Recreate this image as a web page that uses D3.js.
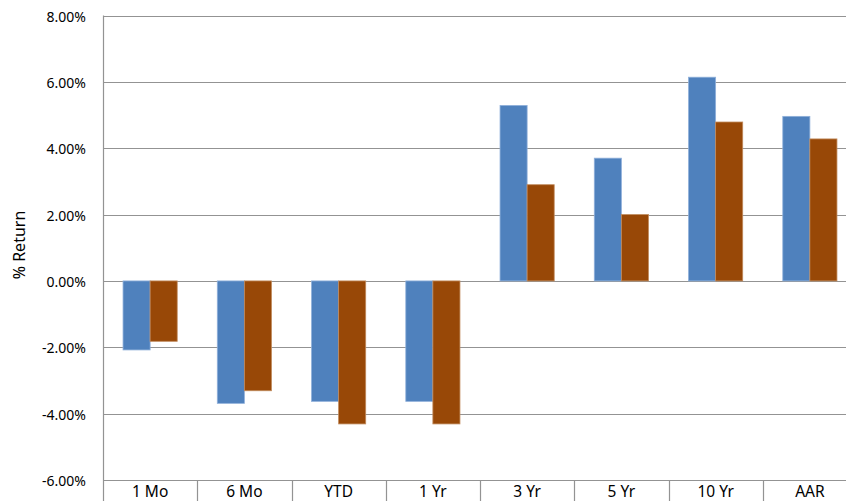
<!DOCTYPE html>
<html>
<head>
<meta charset="utf-8">
<script src="https://cdn.jsdelivr.net/npm/d3@7"></script>
<style>
html,body{margin:0;padding:0;background:#fff;overflow:hidden;}
svg{display:block;}
text{font-family:"Noto Sans",sans-serif;fill:#000;}
</style>
</head>
<body>
<svg id="chart" width="846" height="501"></svg>
<script>
const categories = ["1 Mo","6 Mo","YTD","1 Yr","3 Yr","5 Yr","10 Yr","AAR"];
const seriesA = [-2.08,-3.69,-3.63,-3.63,5.29,3.70,6.14,4.96];
const seriesB = [-1.82,-3.31,-4.31,-4.31,2.90,2.00,4.79,4.28];
const yTicks = [-6,-4,-2,0,2,4,6,8];
const seriesNames = ["A","B"];
const colors = ["#4F81BD","#984807"];
const strokes = ["#8FB0DA","#C08A5C"];

const svg = d3.select("#chart");
const mLeft = 103, mTop = 15.5, mBottom = 480, mRight = 857;
const gridColor = "#939393";

const x = d3.scaleBand().domain(categories).range([mLeft, mRight]).paddingInner(0).paddingOuter(0);
const y = d3.scaleLinear().domain([-6, 8]).range([mBottom, mTop]);
const inner = d3.scaleBand().domain(seriesNames).range([0, x.bandwidth()]).paddingInner(0).paddingOuter(0.74);

// gridlines
svg.append("g").selectAll("line").data(yTicks).join("line")
  .attr("x1", mLeft).attr("x2", 846)
  .attr("y1", d => Math.round(y(d)) + 0.5).attr("y2", d => Math.round(y(d)) + 0.5)
  .attr("stroke", gridColor).attr("stroke-width", 1.2);

// bars
const data = categories.map((c, i) => ({c, vals: [seriesA[i], seriesB[i]]}));
const g = svg.append("g");
data.forEach(d => {
  d.vals.forEach((v, j) => {
    g.append("rect")
      .attr("x", x(d.c) + inner(seriesNames[j]))
      .attr("width", inner.bandwidth())
      .attr("y", y(Math.max(0, v)))
      .attr("height", Math.abs(y(v) - y(0)))
      .attr("fill", colors[j])
      .attr("stroke", strokes[j]).attr("stroke-width", 0.8);
  });
});

// y axis
const yAxis = d3.axisLeft(y).tickValues(yTicks).tickSize(0).tickPadding(17)
  .tickFormat(d => d.toFixed(2) + "%");
const ya = svg.append("g").attr("transform", `translate(${mLeft},0)`).call(yAxis);
ya.select(".domain").remove();
ya.selectAll("text").attr("dy", "0.4em").style("font-size", "14px").style("font-family", '"Noto Sans",sans-serif').attr("fill", "#000");
svg.append("line").attr("x1", mLeft + 0.5).attr("x2", mLeft + 0.5).attr("y1", mTop).attr("y2", 501)
  .attr("stroke", gridColor).attr("stroke-width", 1.2);

// x axis
const xAxis = d3.axisBottom(x).tickSize(0).tickPadding(6);
const xa = svg.append("g").attr("transform", `translate(0,${mBottom})`).call(xAxis);
xa.select(".domain").remove();
xa.selectAll("text").attr("dy", null).attr("y", 17).style("font-size", "15.5px").style("font-family", '"Noto Sans",sans-serif').attr("fill", "#000");
// category separators
svg.append("g").selectAll("line").data(categories.slice(1)).join("line")
  .attr("x1", d => Math.round(x(d)) + 0.5).attr("x2", d => Math.round(x(d)) + 0.5)
  .attr("y1", mBottom).attr("y2", 501)
  .attr("stroke", gridColor).attr("stroke-width", 1.2);

// y title
svg.append("text").attr("transform", `translate(25,245) rotate(-90)`)
  .attr("text-anchor", "middle").style("font-size", "16px").text("% Return");
</script>
</body>
</html>
